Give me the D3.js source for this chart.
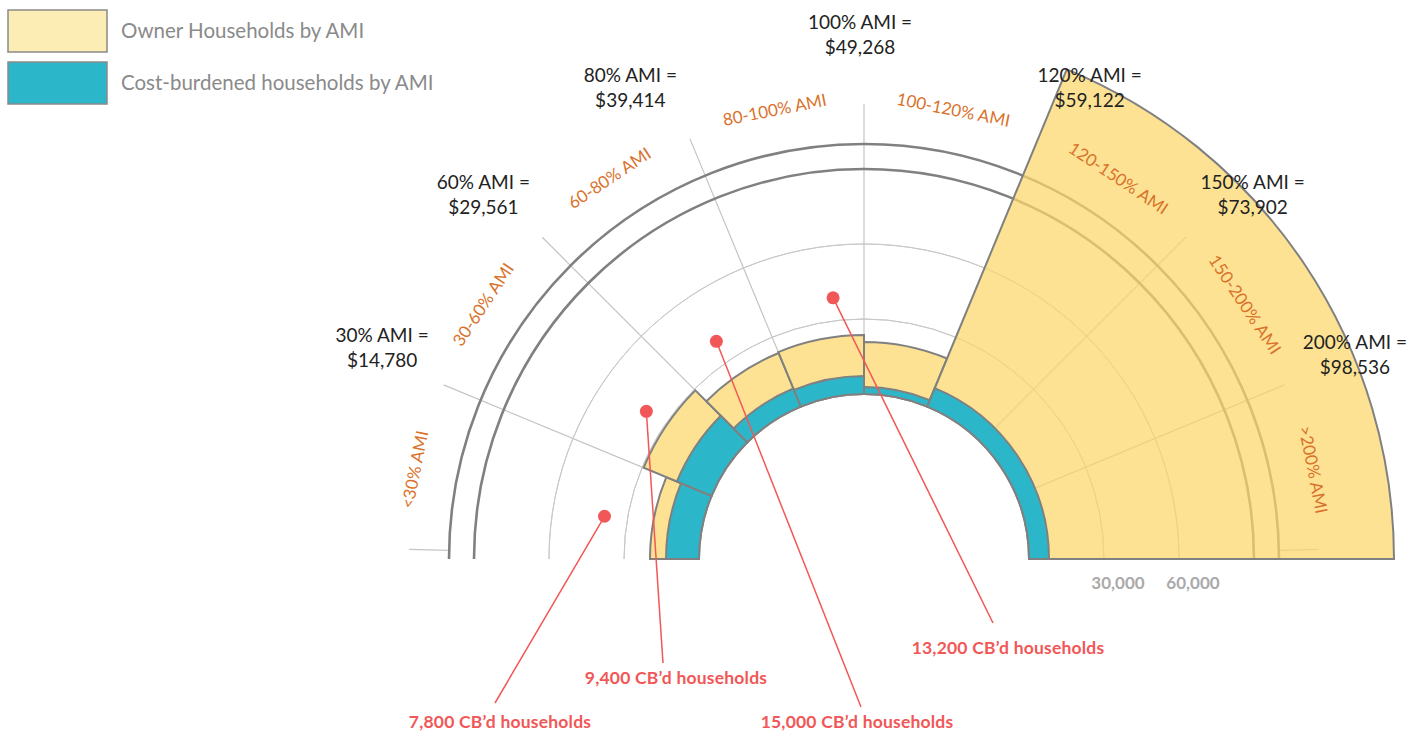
<!DOCTYPE html>
<html>
<head>
<meta charset="utf-8">
<script src="https://cdn.jsdelivr.net/npm/d3@7"></script>
<style>
  body { margin: 0; background: #fff; }
  svg { display: block; font-family: Lato, "Open Sans", sans-serif; }
</style>
</head>
<body>
<svg width="1424" height="732"></svg>
<script>
// Data
const categories = ["<30% AMI", "30-60% AMI", "60-80% AMI", "80-100% AMI", "100-120% AMI", "120-150% AMI", "150-200% AMI", ">200% AMI"];
const ownerHouseholds = [19600, 29400, 23200, 23600, 20800, 146000, 146000, 146000];
const costBurdened = [13200, 15000, 7800, 7200, 2800, 8000, 8000, 8000];
const thresholdNames = ["30% AMI =", "60% AMI =", "80% AMI =", "100% AMI =", "120% AMI =", "150% AMI =", "200% AMI ="];
const thresholdIncomes = ["$14,780", "$29,561", "$39,414", "$49,268", "$59,122", "$73,902", "$98,536"];
const gridTicks = [30000, 60000];
const referenceRings = [90000, 100000];
const calloutCategories = ["<30% AMI", "30-60% AMI", "60-80% AMI", "80-100% AMI"];
const calloutTexts = ["7,800 CB’d households", "9,400 CB’d households", "15,000 CB’d households", "13,200 CB’d households"];

const cx = 864, cy = 559;
const yellow = "#fcd76a", teal = "#2bb7c9", outline = "#808080", red = "#f25757", orange = "#d9722c";

const svg = d3.select("svg");

const r = d3.scaleLinear().domain([0, 100000]).range([165, 415]);
const angle = d3.scaleBand().domain(categories).range([-Math.PI / 2, Math.PI / 2]).padding(0);
const bw = angle.bandwidth();
const pt = (a, rad) => [cx + rad * Math.sin(a), cy - rad * Math.cos(a)];

const g = svg.append("g");

// Light grid rings
const arcLine = d3.arc().startAngle(-Math.PI / 2).endAngle(Math.PI / 2);
g.selectAll(".grid")
  .data(gridTicks)
  .join("path")
  .attr("transform", `translate(${cx},${cy})`)
  .attr("d", d => arcLine({innerRadius: r(d), outerRadius: r(d)}))
  .attr("fill", "none")
  .attr("stroke", "#c8c8c8")
  .attr("stroke-width", 1);

// Radial dividers
const spokeEnd = 455;
g.selectAll(".spoke")
  .data(categories.slice(1))
  .join("line")
  .attr("x1", d => pt(angle(d), r(0))[0])
  .attr("y1", d => pt(angle(d), r(0))[1])
  .attr("x2", d => pt(angle(d), spokeEnd)[0])
  .attr("y2", d => pt(angle(d), spokeEnd)[1])
  .attr("stroke", "#c4c4c4")
  .attr("stroke-width", 1.2);

// short end ticks beyond the outer ring
[-1, 1].forEach(s => {
  const a = s * (Math.PI / 2 - 0.021);
  g.append("line")
    .attr("x1", pt(a, r(referenceRings[1]))[0]).attr("y1", pt(a, r(referenceRings[1]))[1])
    .attr("x2", pt(a, spokeEnd)[0]).attr("y2", pt(a, spokeEnd)[1])
    .attr("stroke", "#c4c4c4").attr("stroke-width", 1.2);
});

// Dark reference rings
g.selectAll(".ref")
  .data(referenceRings)
  .join("path")
  .attr("transform", `translate(${cx},${cy})`)
  .attr("d", d => arcLine({innerRadius: r(d), outerRadius: r(d)}))
  .attr("fill", "none")
  .attr("stroke", outline)
  .attr("stroke-width", 2.6);

// Merge neighbouring categories with identical values into one bar
const segments = [];
categories.forEach((c, i) => {
  const last = segments[segments.length - 1];
  if (last && last.owner === ownerHouseholds[i] && last.cb === costBurdened[i]) {
    last.endAngle = angle(c) + bw;
  } else {
    segments.push({owner: ownerHouseholds[i], cb: costBurdened[i], startAngle: angle(c), endAngle: angle(c) + bw});
  }
});

const arc = d3.arc();
const bars = g.append("g").attr("transform", `translate(${cx},${cy})`);

bars.selectAll(".owner")
  .data(segments)
  .join("path")
  .attr("d", d => arc({innerRadius: r(0), outerRadius: r(d.owner), startAngle: d.startAngle, endAngle: d.endAngle}))
  .attr("fill", yellow)
  .attr("fill-opacity", 0.72)
  .attr("stroke", outline)
  .attr("stroke-width", 2);

bars.selectAll(".cb")
  .data(segments)
  .join("path")
  .attr("d", d => arc({innerRadius: r(0), outerRadius: r(d.cb), startAngle: d.startAngle, endAngle: d.endAngle}))
  .attr("fill", teal)
  .attr("stroke", outline)
  .attr("stroke-width", 2);

// Axis tick labels
g.selectAll(".tick")
  .data(gridTicks)
  .join("text")
  .attr("x", d => cx + r(d) + 14)
  .attr("y", cy + 30)
  .attr("text-anchor", "middle")
  .attr("font-size", 17)
  .attr("font-weight", 700)
  .attr("fill", "#aaa")
  .text(d => d3.format(",")(d));

// Category labels along the arc
g.selectAll(".cat")
  .data(categories)
  .join("text")
  .attr("transform", d => {
    const a = angle(d) + bw / 2;
    const [x, y] = pt(a, 458);
    return `translate(${x},${y}) rotate(${a * 180 / Math.PI})`;
  })
  .attr("text-anchor", "middle")
  .attr("dy", "0.35em")
  .attr("font-size", 17)
  .attr("fill", orange)
  .text(d => d);

// Threshold labels at the divider ends
const labelNudge = [[5, -10], [-8, 8], [-32, 15], [-4, 2], [24, 15], [16, 8], [4, -3]];
const th = g.selectAll(".thr")
  .data(thresholdNames)
  .join("text")
  .attr("text-anchor", "middle")
  .attr("font-size", 19)
  .attr("fill", "#222")
  .attr("transform", (d, i) => {
    const [x, y] = pt(angle(categories[i + 1]), 527);
    return `translate(${x + labelNudge[i][0]},${y + labelNudge[i][1]})`;
  });
th.append("tspan").attr("x", 0).attr("y", -5).text(d => d);
th.append("tspan").attr("x", 0).attr("y", 20).text((d, i) => thresholdIncomes[i]);

// Callouts
const dotNudge = [-1.9, 0.4, -0.4, 4.5];
const labelPos = [[500, 728], [676, 684], [857, 728], [1008, 654]];
const lineEnd = [[495, 703], [663, 663], [861, 707], [993, 623]];
const callouts = calloutCategories.map((c, i) => {
  const a = angle(c) + bw / 2 + dotNudge[i] * Math.PI / 180;
  return {dot: pt(a, 263), end: lineEnd[i], label: labelPos[i], text: calloutTexts[i]};
});
const co = g.append("g");
co.selectAll("line")
  .data(callouts)
  .join("line")
  .attr("x1", d => d.dot[0]).attr("y1", d => d.dot[1])
  .attr("x2", d => d.end[0]).attr("y2", d => d.end[1])
  .attr("stroke", red).attr("stroke-width", 1.5);
co.selectAll("circle")
  .data(callouts)
  .join("circle")
  .attr("cx", d => d.dot[0]).attr("cy", d => d.dot[1])
  .attr("r", 6.5)
  .attr("fill", red);
co.selectAll("text")
  .data(callouts)
  .join("text")
  .attr("x", d => d.label[0]).attr("y", d => d.label[1])
  .attr("text-anchor", "middle")
  .attr("font-size", 17.5)
  .attr("font-weight", 700)
  .attr("letter-spacing", 0.2)
  .attr("fill", red)
  .text(d => d.text);

// Legend
const legend = svg.append("g");
const legendItems = [
  {label: "Owner Households by AMI", fill: "#fcedb5"},
  {label: "Cost-burdened households by AMI", fill: teal}
];
const li = legend.selectAll("g")
  .data(legendItems)
  .join("g")
  .attr("transform", (d, i) => `translate(8,${10 + i * 52})`);
li.append("rect")
  .attr("width", 99).attr("height", 42)
  .attr("fill", d => d.fill)
  .attr("stroke", "#8a8a8a").attr("stroke-width", 1.5);
li.append("text")
  .attr("x", 113).attr("y", 21).attr("dy", "0.35em")
  .attr("font-size", 20.5)
  .attr("fill", "#8a8a8a")
  .text(d => d.label);
</script>
</body>
</html>
